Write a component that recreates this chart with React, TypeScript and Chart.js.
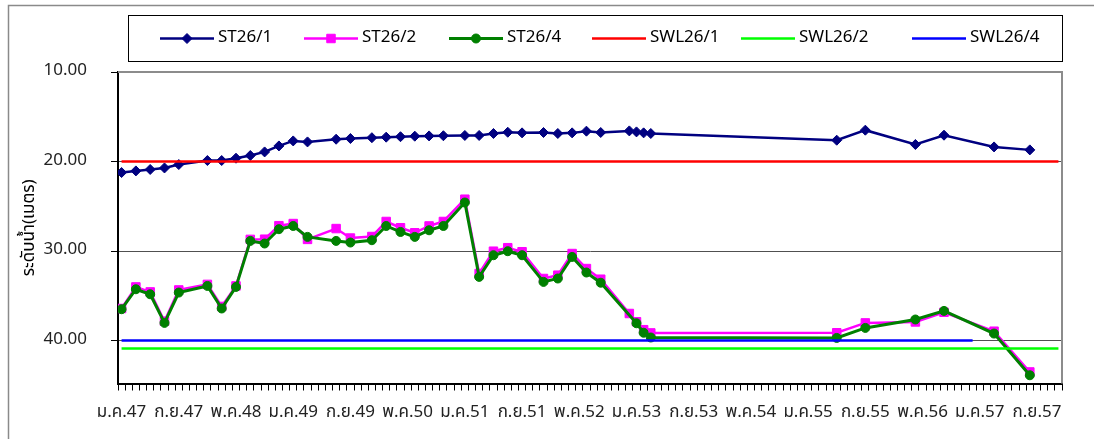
import React, { useEffect, useRef } from 'react';
import { Chart, registerables } from 'chart.js';

Chart.register(...registerables);

// ---- data ----
const dates = [
  '2004-01', '2004-03', '2004-05', '2004-07', '2004-09', '2005-01', '2005-03', '2005-05',
  '2005-07', '2005-09', '2005-11', '2006-01', '2006-03', '2006-07', '2006-09', '2006-12',
  '2007-02', '2007-04', '2007-06', '2007-08', '2007-10', '2008-01', '2008-03', '2008-05',
  '2008-07', '2008-09', '2008-12', '2009-02', '2009-04', '2009-06', '2009-08', '2009-12',
  '2010-01', '2010-02', '2010-03', '2012-05', '2012-09', '2013-04', '2013-08', '2014-03',
  '2014-08',
];

const st26_1 = [
  21.23, 21.05, 20.89, 20.72, 20.34, 19.89, 19.89, 19.63,
  19.33, 18.93, 18.26, 17.70, 17.81, 17.51, 17.43, 17.34,
  17.28, 17.23, 17.17, 17.14, 17.12, 17.09, 17.09, 16.87,
  16.73, 16.80, 16.76, 16.87, 16.80, 16.61, 16.76, 16.58,
  16.69, 16.80, 16.87, 17.62, 16.50, 18.10, 17.06, 18.37,
  18.70,
];

const st26_2 = [
  36.42, 34.01, 34.57, 37.84, 34.35, 33.73, 36.19, 33.90,
  28.70, 28.68, 27.17, 26.93, 28.70, 27.49, 28.55, 28.38,
  26.70, 27.40, 27.96, 27.20, 26.70, 24.21, 32.51, 30.02,
  29.63, 30.08, 33.07, 32.70, 30.28, 31.96, 33.15, 36.98,
  37.90, 38.79, 39.15, 39.13, 38.03, 37.92, 36.84, 38.96,
  43.51,
];

const st26_4 = [
  36.50, 34.27, 34.83, 38.03, 34.64, 33.90, 36.42, 34.01,
  28.87, 29.16, 27.56, 27.20, 28.42, 28.87, 29.05, 28.79,
  27.20, 27.87, 28.42, 27.68, 27.20, 24.58, 32.89, 30.47,
  30.02, 30.47, 33.45, 33.07, 30.66, 32.40, 33.54, null,
  38.07, 39.13, 39.66, 39.71, 38.59, 37.65, 36.69, 39.22,
  43.88,
];

const swl1Dates = ['2004-01', '2014-12'];
const swl1Values = [20.0, 20.0];
const swl2Dates = ['2004-01', '2014-12'];
const swl2Values = [40.9, 40.9];
const swl4Dates = ['2004-01', '2013-12'];
const swl4Values = [40.0, 40.0];

const xTickLabels = [
  'ม.ค.47', 'ก.ย.47', 'พ.ค.48', 'ม.ค.49', 'ก.ย.49', 'พ.ค.50', 'ม.ค.51', 'ก.ย.51', 'พ.ค.52',
  'ม.ค.53', 'ก.ย.53', 'พ.ค.54', 'ม.ค.55', 'ก.ย.55', 'พ.ค.56', 'ม.ค.57', 'ก.ย.57',
];
const xLabelEvery = 8; // months between labels
const axisStartYear = 2004;
const axisMonths = 132; // Jan 2004 .. Dec 2014
const yTicks = [10, 20, 30, 40];
const yMin = 10;
const yMax = 44.8;
const yTitle = 'ระดับน้ำ(เมตร)';

// ---- helpers ----
const FONT = "'Noto Sans Thai', 'Noto Sans', 'Liberation Sans', sans-serif";

function monthPos(d: string): number {
  const [y, m] = d.split('-').map(Number);
  return (y - axisStartYear) * 12 + (m - 1) + 0.5; // centre of the month bin
}
const pts = (ds: string[], vs: (number | null)[]) => ds.map((d, i) => ({ x: monthPos(d), y: vs[i] }));

const legendX = [160, 304, 449, 592, 741, 912];

function drawMarker(ctx: CanvasRenderingContext2D, style: string, x: number, y: number, r: number, color: string) {
  ctx.save();
  ctx.fillStyle = color;
  ctx.strokeStyle = color;
  ctx.lineWidth = 1;
  ctx.beginPath();
  if (style === 'rectRot') {
    ctx.moveTo(x - r, y);
    ctx.lineTo(x, y - r);
    ctx.lineTo(x + r, y);
    ctx.lineTo(x, y + r);
    ctx.closePath();
  } else if (style === 'rect') {
    const s = Math.SQRT1_2 * r;
    ctx.rect(x - s, y - s, 2 * s, 2 * s);
  } else if (style === 'circle') {
    ctx.arc(x, y, r, 0, Math.PI * 2);
  }
  ctx.fill();
  ctx.stroke();
  ctx.restore();
}

const decorPlugin = {
  id: 'decor',
  beforeDraw(chart: any) {
    const ctx = chart.ctx as CanvasRenderingContext2D;
    const w = chart.width;
    const h = chart.height;
    ctx.save();
    ctx.fillStyle = '#ffffff';
    ctx.fillRect(0, 0, w, h);
    ctx.strokeStyle = '#8a8a8a';
    ctx.lineWidth = 1.5;
    ctx.beginPath();
    ctx.moveTo(8.5, h);
    ctx.lineTo(8.5, 5.5);
    ctx.lineTo(w, 5.5);
    ctx.stroke();
    ctx.restore();
  },
  afterDraw(chart: any) {
    const ctx = chart.ctx as CanvasRenderingContext2D;
    const { left, top, right, bottom } = chart.chartArea;
    ctx.save();
    // plot area border (top & right)
    ctx.strokeStyle = '#8c8c8c';
    ctx.lineWidth = 2;
    ctx.beginPath();
    ctx.moveTo(left, top);
    ctx.lineTo(right, top);
    ctx.lineTo(right, bottom);
    ctx.stroke();

    // legend box
    ctx.strokeStyle = '#000000';
    ctx.lineWidth = 1;
    ctx.strokeRect(128.5, 15.5, 934, 46);
    const cy = 38.5;
    chart.data.datasets.forEach((ds: any, i: number) => {
      const x0 = legendX[i];
      const len = 54;
      ctx.strokeStyle = ds.borderColor;
      ctx.lineWidth = ds.borderWidth;
      ctx.beginPath();
      ctx.moveTo(x0, cy);
      ctx.lineTo(x0 + len, cy);
      ctx.stroke();
      if (ds.pointRadius > 0) {
        drawMarker(ctx, ds.pointStyle, x0 + len / 2, cy, ds.pointRadius, ds.borderColor);
      }
      ctx.fillStyle = '#000000';
      ctx.font = `17px ${FONT}`;
      ctx.textBaseline = 'middle';
      ctx.textAlign = 'left';
      ctx.fillText(ds.label, x0 + len + 4, cy);
    });
    ctx.restore();
  },
};

export default function App() {
  const ref = useRef<HTMLCanvasElement>(null);

  useEffect(() => {
    const canvas = ref.current;
    if (!canvas) return;
    const chart = new Chart(canvas, {
      type: 'line',
      data: {
        datasets: [
          {
            label: 'ST26/1', data: pts(dates, st26_1), borderColor: '#000080', backgroundColor: '#000080',
            borderWidth: 2.5, pointStyle: 'rectRot', pointRadius: 5, pointBorderWidth: 1, order: 6, spanGaps: true,
          },
          {
            label: 'ST26/2', data: pts(dates, st26_2), borderColor: '#FF00FF', backgroundColor: '#FF00FF',
            borderWidth: 2.5, pointStyle: 'rect', pointRadius: 6, pointBorderWidth: 1, order: 5, spanGaps: true,
          },
          {
            label: 'ST26/4', data: pts(dates, st26_4), borderColor: '#008000', backgroundColor: '#008000',
            borderWidth: 3, pointStyle: 'circle', pointRadius: 4.5, pointBorderWidth: 1, order: 4, spanGaps: true,
          },
          {
            label: 'SWL26/1', data: pts(swl1Dates, swl1Values), borderColor: '#FF0000', backgroundColor: '#FF0000',
            borderWidth: 2.5, pointRadius: 0, order: 3,
          },
          {
            label: 'SWL26/2', data: pts(swl2Dates, swl2Values), borderColor: '#00FF00', backgroundColor: '#00FF00',
            borderWidth: 2.5, pointRadius: 0, order: 2,
          },
          {
            label: 'SWL26/4', data: pts(swl4Dates, swl4Values), borderColor: '#0000FF', backgroundColor: '#0000FF',
            borderWidth: 2.5, pointRadius: 0, order: 1,
          },
        ] as any,
      },
      options: {
        responsive: false,
        animation: false,
        devicePixelRatio: 1,
        layout: { padding: { left: 0, top: 72, right: 32, bottom: 0 } },
        plugins: { legend: { display: false }, tooltip: { enabled: false } },
        elements: { line: { tension: 0 } },
        scales: {
          x: {
            type: 'linear',
            min: 0,
            max: axisMonths,
            afterBuildTicks: (s: any) => {
              s.ticks = Array.from({ length: axisMonths }, (_, i) => ({ value: i + 0.5 }));
            },
            afterFit: (s: any) => { s.height = 55.5; },
            ticks: {
              autoSkip: false,
              maxRotation: 0,
              minRotation: 0,
              padding: 13,
              color: '#222222',
              font: { size: 17, family: FONT },
              callback: (_v: any, i: number) => (i % xLabelEvery === 0 ? xTickLabels[i / xLabelEvery] ?? '' : ''),
            },
            grid: { offset: true, drawOnChartArea: false, drawTicks: true, tickLength: 7, tickColor: '#000000', tickWidth: 1 },
            border: { display: true, color: '#000000', width: 2 },
          },
          y: {
            type: 'linear',
            reverse: true,
            min: yMin,
            max: yMax,
            afterBuildTicks: (s: any) => { s.ticks = yTicks.map((v) => ({ value: v })); },
            afterFit: (s: any) => { s.width = 118; },
            ticks: {
              padding: 24,
              color: '#222222',
              font: { size: 17, family: FONT },
              callback: (v: any) => Number(v).toFixed(2),
            },
            grid: {
              color: (c: any) => (c.tick && c.tick.value === yMin ? 'rgba(0,0,0,0)' : '#505050'),
              lineWidth: 1,
              drawTicks: true,
              tickLength: 7,
              tickColor: '#000000',
            },
            border: { display: true, color: '#000000', width: 2 },
            title: {
              display: true,
              text: yTitle,
              color: '#000000',
              font: { size: 17, family: FONT },
              padding: { top: 20, bottom: 0 },
            },
          },
        },
      } as any,
      plugins: [decorPlugin],
    });
    return () => chart.destroy();
  }, []);

  return (
    <div style={{ position: 'absolute', left: 0, top: 0, width: 1094, height: 439, background: '#ffffff' }}>
      <canvas ref={ref} width={1094} height={439} style={{ display: 'block', width: 1094, height: 439 }} />
    </div>
  );
}
